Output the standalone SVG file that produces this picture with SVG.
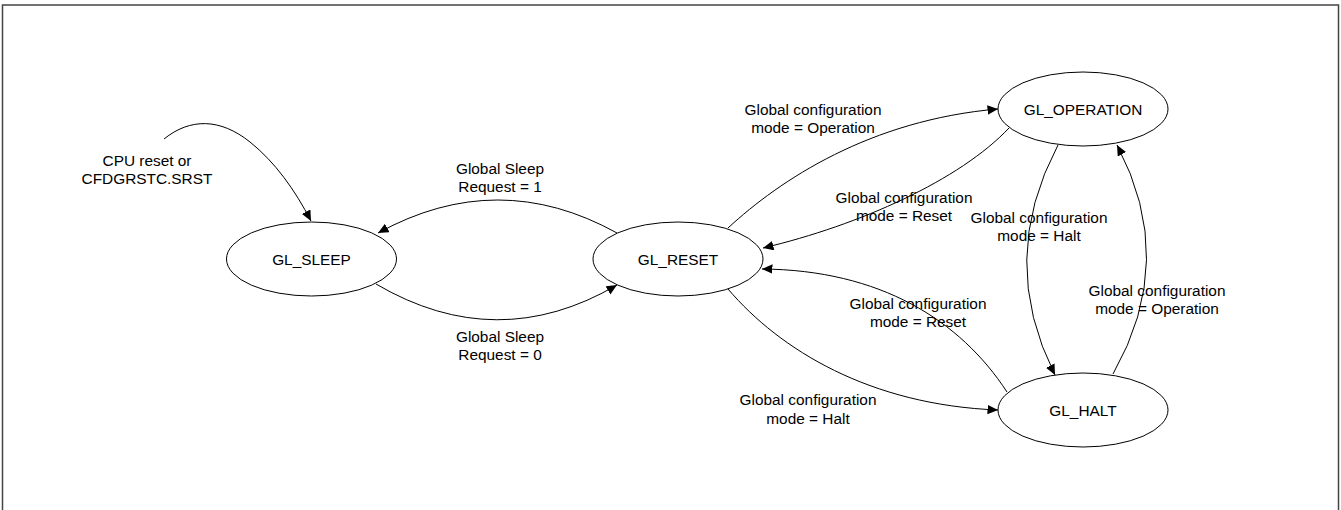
<svg xmlns="http://www.w3.org/2000/svg" width="1341" height="510" viewBox="0 0 1341 510">
<style>
.frame{fill:none;stroke:#444;stroke-width:1.5}
.node ellipse{fill:#fff;stroke:#000;stroke-width:1}
.lbl{font-family:"Liberation Sans",Arial,sans-serif;font-size:15.4px;fill:#000;text-anchor:middle}
.edge{fill:none;stroke:#000;stroke-width:1;marker-end:url(#arr)}
</style>
<defs>
<marker id="arr" markerUnits="userSpaceOnUse" markerWidth="12" markerHeight="10" refX="10.5" refY="4.75" orient="auto">
<path d="M0,0 L10.5,4.75 L0,9.5 z" fill="#000"/>
</marker>
</defs>
<rect width="1341" height="510" fill="#fff"/>
<path class="frame" d="M2.5,515 L2.5,5 L1338.5,5 L1338.5,515"/>
<g id="connectors">
<path class="edge" d="M164,139 C190,118 220,118 250,142 C275,162 295,190 311,221"/>
<path class="edge" d="M617,233 Q498,167 378,233"/>
<path class="edge" d="M376,284 Q497,355 617,285"/>
<path class="edge" d="M728,228 C780,180 870,120 998,109"/>
<path class="edge" d="M1009,128 C960,180 860,225 763,248"/>
<path class="edge" d="M1007,392 C960,320 880,270 762,269"/>
<path class="edge" d="M728,289 C780,350 870,405 998,410"/>
<path class="edge" d="M1058,145 Q997,260 1055,375"/>
<path class="edge" d="M1113,374 Q1178,260 1117,145"/>
</g>
<g id="edge-labels">
<text class="lbl" x="147" y="166">CPU reset or</text>
<text class="lbl" x="147" y="184">CFDGRSTC.SRST</text>
<text class="lbl" x="500" y="174">Global Sleep</text>
<text class="lbl" x="500" y="192">Request = 1</text>
<text class="lbl" x="500" y="342">Global Sleep</text>
<text class="lbl" x="500" y="360">Request = 0</text>
<text class="lbl" x="813" y="115">Global configuration</text>
<text class="lbl" x="813" y="133">mode = Operation</text>
<text class="lbl" x="904" y="203">Global configuration</text>
<text class="lbl" x="904" y="221">mode = Reset</text>
<text class="lbl" x="1039" y="223">Global configuration</text>
<text class="lbl" x="1039" y="241">mode = Halt</text>
<text class="lbl" x="1157" y="296">Global configuration</text>
<text class="lbl" x="1157" y="314">mode = Operation</text>
<text class="lbl" x="918" y="309">Global configuration</text>
<text class="lbl" x="918" y="327">mode = Reset</text>
<text class="lbl" x="808" y="405">Global configuration</text>
<text class="lbl" x="808" y="424">mode = Halt</text>
</g>
<g id="GL_SLEEP" class="node">
<ellipse cx="311.5" cy="259" rx="85" ry="37"/>
<text class="lbl" x="311.5" y="264.5">GL_SLEEP</text>
</g>
<g id="GL_RESET" class="node">
<ellipse cx="678" cy="259" rx="85" ry="37"/>
<text class="lbl" x="678" y="264.5">GL_RESET</text>
</g>
<g id="GL_OPERATION" class="node">
<ellipse cx="1083" cy="109" rx="85" ry="37"/>
<text class="lbl" x="1083" y="114.5">GL_OPERATION</text>
</g>
<g id="GL_HALT" class="node">
<ellipse cx="1083" cy="410" rx="85" ry="37"/>
<text class="lbl" x="1083" y="415.5">GL_HALT</text>
</g>
</svg>
